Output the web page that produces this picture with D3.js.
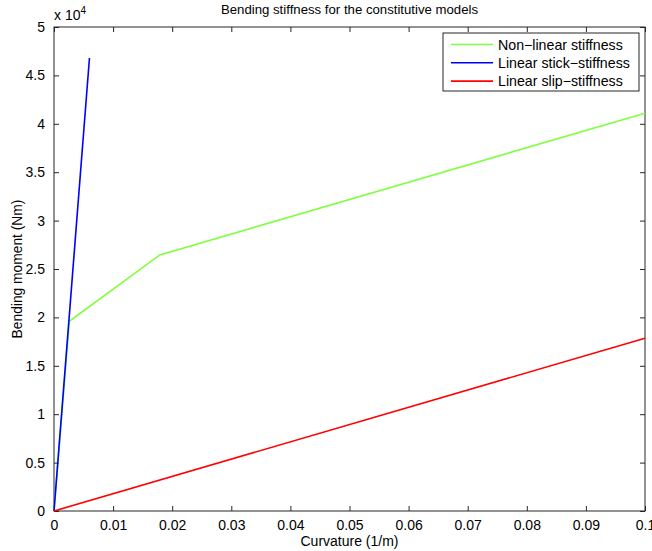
<!DOCTYPE html>
<html>
<head>
<meta charset="utf-8">
<script src="https://cdn.jsdelivr.net/npm/d3@7"></script>
<style>
  body { margin: 0; background: #fff; }
  text { font-family: "Liberation Sans", Arial, sans-serif; fill: #000; }
</style>
</head>
<body>
<div id="chart"></div>
<script>
const xTicks = [0, 0.01, 0.02, 0.03, 0.04, 0.05, 0.06, 0.07, 0.08, 0.09, 0.1];
const yTicks = [0, 0.5, 1, 1.5, 2, 2.5, 3, 3.5, 4, 4.5, 5];

const seriesNames = ["Non\u2212linear stiffness", "Linear stick\u2212stiffness", "Linear slip\u2212stiffness"];
const seriesColors = ["#80ff40", "#0000ff", "#ff0000"];

// curvature (1/m) and moment (Nm)
const nonLinearX = [0, 0.0026, 0.0179, 0.1];
const nonLinearY = [0, 19600, 26450, 41100];
const stickX = [0, 0.006];
const stickY = [0, 46800];
const slipX = [0, 0.1];
const slipY = [0, 17850];

const allSeries = [
  nonLinearX.map((x, i) => [x, nonLinearY[i]]),
  stickX.map((x, i) => [x, stickY[i]]),
  slipX.map((x, i) => [x, slipY[i]])
];

const margin = { top: 27, right: 7, bottom: 40, left: 54 };
const W = 652, H = 551;
const width = W - margin.left - margin.right;
const height = H - margin.top - margin.bottom;

const svg = d3.select("#chart").append("svg")
  .attr("width", W).attr("height", H);

const g = svg.append("g")
  .attr("transform", `translate(${margin.left},${margin.top})`);

const x = d3.scaleLinear().domain([0, 0.1]).range([0, width]);
const y = d3.scaleLinear().domain([0, 50000]).range([height, 0]);

const axisColor = "#262626";
const fmt = (d) => d === 0 ? "0" : String(+d.toFixed(2));

// box
g.append("rect").attr("width", width).attr("height", height)
  .attr("fill", "none").attr("stroke", axisColor).attr("stroke-width", 1);

// axes, ticks pointing inward on all four sides
const xAxis = g.append("g").attr("transform", `translate(0,${height})`)
  .call(d3.axisBottom(x).tickValues(xTicks).tickSize(-5).tickPadding(9).tickFormat(fmt));
const topAxis = g.append("g")
  .call(d3.axisTop(x).tickValues(xTicks).tickSize(-5).tickFormat(""));
const yAxis = g.append("g")
  .call(d3.axisLeft(y).tickValues(yTicks.map(v => v * 1e4)).tickSize(-5).tickPadding(9)
    .tickFormat(d => fmt(d / 1e4)));
const rightAxis = g.append("g").attr("transform", `translate(${width},0)`)
  .call(d3.axisRight(y).tickValues(yTicks.map(v => v * 1e4)).tickSize(-5).tickFormat(""));

[xAxis, topAxis, yAxis, rightAxis].forEach(a => {
  a.select(".domain").remove();
  a.selectAll("line").attr("stroke", axisColor);
  a.selectAll("text").style("font-size", "14px").style("font-family", "Liberation Sans, Arial, sans-serif").attr("fill", "#000");
});

// lines
const line = d3.line().x(d => x(d[0])).y(d => y(d[1]));
allSeries.forEach((s, i) => {
  g.append("path").datum(s).attr("d", line)
    .attr("fill", "none").attr("stroke", seriesColors[i]).attr("stroke-width", 1.6);
});

// exponent
const ex = svg.append("text").attr("x", margin.left).attr("y", 20).style("font-size", "14px");
ex.append("tspan").text("x 10");
ex.append("tspan").attr("dy", -6).style("font-size", "10px").text("4");

// title & labels
svg.append("text").attr("x", margin.left + width / 2).attr("y", 14)
  .attr("text-anchor", "middle").style("font-size", "13.2px")
  .text("Bending stiffness for the constitutive models");
svg.append("text").attr("x", margin.left + width / 2).attr("y", 546)
  .attr("text-anchor", "middle").style("font-size", "14px")
  .text("Curvature (1/m)");
svg.append("text").attr("transform", `translate(22,${margin.top + height / 2}) rotate(-90)`)
  .attr("text-anchor", "middle").style("font-size", "13.8px")
  .text("Bending moment (Nm)");

// legend
const legend = svg.append("g").attr("transform", "translate(443,33)");
legend.append("rect").attr("width", 196).attr("height", 58)
  .attr("fill", "#fff").attr("stroke", axisColor).attr("stroke-width", 1);
seriesNames.forEach((name, i) => {
  const yy = 11.5 + i * 18.3;
  legend.append("line").attr("x1", 8).attr("x2", 50).attr("y1", yy).attr("y2", yy)
    .attr("stroke", seriesColors[i]).attr("stroke-width", 1.6);
  legend.append("text").attr("x", 55).attr("y", yy + 5).style("font-size", "14.2px").text(name);
});
</script>
</body>
</html>
